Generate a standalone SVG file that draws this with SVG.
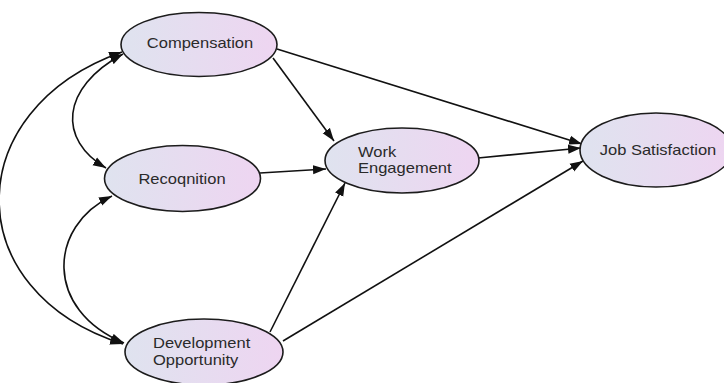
<svg xmlns="http://www.w3.org/2000/svg" width="724" height="383" viewBox="0 0 724 383">
  <defs>
    <linearGradient id="nodeFill" x1="0" y1="0" x2="1" y2="0">
      <stop offset="0" stop-color="#dfe3ef"/>
      <stop offset="1" stop-color="#eed5f1"/>
    </linearGradient>
    <marker id="arrow" markerUnits="userSpaceOnUse" markerWidth="14" markerHeight="10" refX="13" refY="5" orient="auto-start-reverse">
      <path d="M0,0.5 L13,5 L0,9.5 z" fill="#111"/>
    </marker>
    <style>
      .node ellipse { fill: url(#nodeFill); stroke: #1c1c1c; stroke-width: 1.6; }
      .node text { font-family: "Liberation Sans", Arial, sans-serif; font-size: 14px; fill: #2a2a2a; }
      .links path { fill: none; stroke: #111; stroke-width: 1.6; marker-end: url(#arrow); }
      .links path.both { marker-start: url(#arrow); }
    </style>
  </defs>
  <rect width="724" height="383" fill="#fff"/>

  <!-- connectors -->
  <g id="connectors" class="links">
    <!-- covariances between the three antecedents -->
    <path class="both" d="M122,52 C-42,110 -42,292 123,344"/>
    <path class="both" d="M123,54 C60,88 58,140 106,168"/>
    <path class="both" d="M112,196 C48,226 44,310 124,343"/>
    <!-- paths into Work Engagement -->
    <path d="M273,58 L334,141"/>
    <path d="M260,173 L326,169"/>
    <path d="M270,332 L345,183"/>
    <!-- paths into Job Satisfaction -->
    <path d="M277,49 L582,144"/>
    <path d="M478,158 L581,148"/>
    <path d="M283,341 L583,161"/>
  </g>

  <g id="compensation" class="node">
    <ellipse cx="199" cy="44.5" rx="78" ry="32"/>
    <text transform="translate(200,48) scale(1.18,1)" text-anchor="middle">Compensation</text>
  </g>

  <g id="recognition" class="node">
    <ellipse cx="182.5" cy="178.5" rx="78" ry="33"/>
    <text transform="translate(182,183.5) scale(1.18,1)" text-anchor="middle">Recoqnition</text>
  </g>

  <g id="work-engagement" class="node">
    <ellipse cx="402" cy="160.5" rx="77" ry="32.5"/>
    <text transform="translate(358,157) scale(1.18,1)">Work</text>
    <text transform="translate(358,172.5) scale(1.18,1)">Engagement</text>
  </g>

  <g id="job-satisfaction" class="node">
    <ellipse cx="656" cy="150" rx="76" ry="37"/>
    <text transform="translate(658,154.5) scale(1.18,1)" text-anchor="middle">Job Satisfaction</text>
  </g>

  <g id="development-opportunity" class="node">
    <ellipse cx="204" cy="352" rx="79" ry="33"/>
    <text transform="translate(153,347.5) scale(1.18,1)">Development</text>
    <text transform="translate(153,365) scale(1.18,1)">Opportunity</text>
  </g>
</svg>
